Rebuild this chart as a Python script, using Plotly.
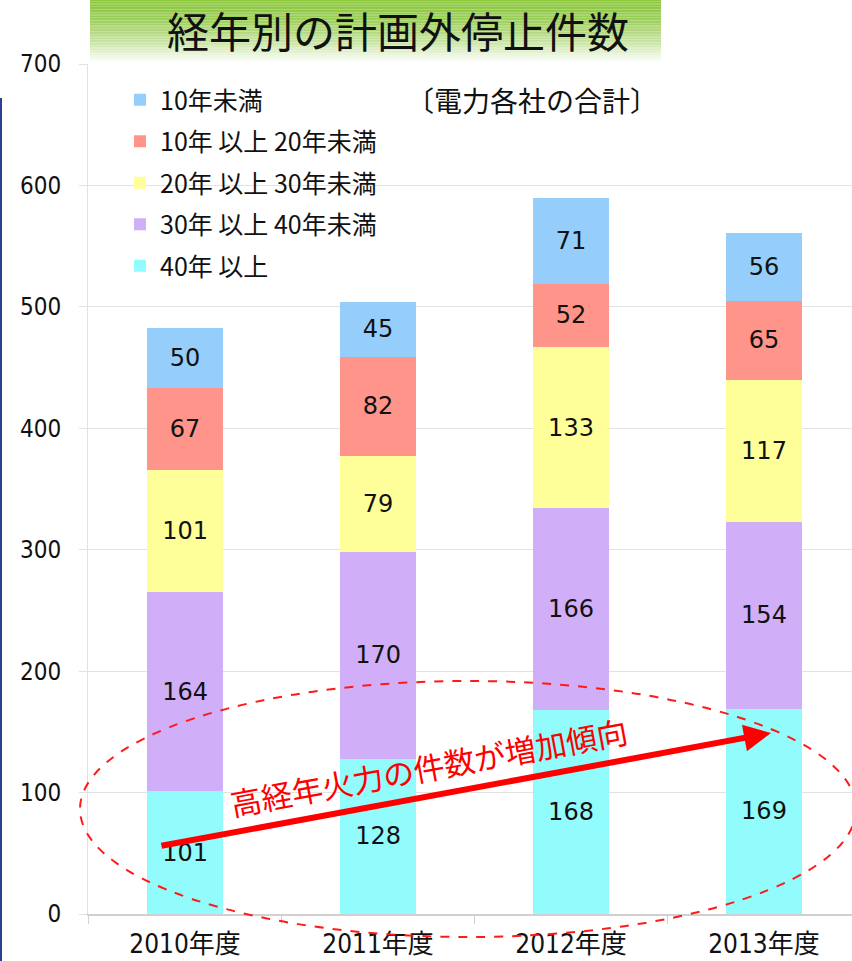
import plotly.graph_objects as go

categories = ["2010年度", "2011年度", "2012年度", "2013年度"]
series_names = ["40年以上", "30年以上40年未満", "20年以上30年未満", "10年以上20年未満", "10年未満"]
v_40plus = [101, 128, 168, 169]
v_30_40 = [164, 170, 166, 154]
v_20_30 = [101, 79, 133, 117]
v_10_20 = [67, 82, 52, 65]
v_under10 = [50, 45, 71, 56]
y_ticks = [0, 100, 200, 300, 400, 500, 600, 700]

values = [v_40plus, v_30_40, v_20_30, v_10_20, v_under10]
colors = ["#92FCFC", "#D0AEF8", "#FFFF99", "#FF948A", "#95CEFA"]

W, H = 852, 961
L, R, T, B = 88, 0, 64, 47
PW = W - L - R
PH = H - T - B

def px(x):
    return (x - L) / PW

def py(y):
    return (H - B - y) / PH

FONT = "Liberation Sans Narrow, DejaVu Sans Condensed, Noto Sans CJK JP, sans-serif"
NUMFONT = "DejaVu Sans, sans-serif"
CJK = "Noto Sans CJK JP, sans-serif"

fig = go.Figure()
n_series = len(series_names)
for i, (name, vals, col) in enumerate(zip(series_names, values, colors)):
    fig.add_trace(go.Bar(
        x=categories, y=vals, name=name.replace("以上", " 以上 ").replace("  ", " ").strip(),
        marker=dict(color=col, line=dict(width=0)),
        text=[str(v) for v in vals], textposition="inside",
        insidetextanchor="middle",
        textfont=dict(size=24, color="#111111", family=NUMFONT),
        width=0.39, legendgroup=f"g{i}", legendrank=n_series - i,
        hoverinfo="skip",
    ))

shapes = []
# green gradient title box
n = 40
top, bot = 0, 63
for k in range(n):
    y0 = top + (bot - top) * k / n
    y1 = top + (bot - top) * (k + 1) / n
    t = k / (n - 1)
    f = t ** 1.6
    r = int(141 + (255 - 141) * f)
    g = int(200 + (255 - 200) * f)
    b = int(63 + (255 - 63) * f)
    shapes.append(dict(type="rect", xref="paper", yref="paper",
                       x0=px(90), x1=px(661), y0=py(y1), y1=py(y0),
                       fillcolor=f"rgb({r},{g},{b})", line=dict(width=0), layer="above"))
# left blue edge line
shapes.append(dict(type="line", xref="paper", yref="paper",
                   x0=px(1), x1=px(1), y0=py(98), y1=py(961),
                   line=dict(color="#2D3F8F", width=2)))
# dashed ellipse
shapes.append(dict(type="circle", xref="paper", yref="paper",
                   x0=px(80), x1=px(856), y0=py(937), y1=py(681),
                   line=dict(color="#FF1A1A", width=2, dash="dash"), layer="above"))

annotations = [
    dict(text="経年別の計画外停止件数", xref="paper", yref="paper",
         x=px(398), y=py(30), xanchor="center", yanchor="middle", showarrow=False,
         font=dict(size=42, color="#111111", family=CJK)),
    dict(text="〔電力各社の合計〕", xref="paper", yref="paper",
         x=px(532), y=py(100), xanchor="center", yanchor="middle", showarrow=False,
         font=dict(size=28, color="#111111", family=CJK)),
    dict(text="", xref="paper", yref="paper",
         x=px(771), y=py(733), ax=160 - 771, ay=846 - 733,
         showarrow=True, arrowhead=2, arrowsize=0.9, arrowwidth=6,
         arrowcolor="#FF0000"),
    dict(text="高経年火力の件数が増加傾向", xref="paper", yref="paper",
         x=px(428), y=py(766), xanchor="center", yanchor="middle",
         showarrow=False, textangle=-10.5,
         font=dict(size=31, color="#FF0000", family=CJK)),
]

fig.update_layout(
    width=W, height=H,
    margin=dict(l=L, r=R, t=T, b=B, autoexpand=False),
    paper_bgcolor="white", plot_bgcolor="white",
    barmode="stack",
    showlegend=True,
    hovermode=False,
    legend=dict(x=px(120), y=py(77), xanchor="left", yanchor="top",
                traceorder="grouped", tracegroupgap=6,
                font=dict(size=25, color="#111111", family=CJK),
                bgcolor="rgba(0,0,0,0)", itemwidth=30),
    xaxis=dict(type="category", range=[-0.503, 3.456], automargin=False,
               showgrid=False, showline=True, linecolor="#D0D0D0", linewidth=2,
               ticks="outside", ticklen=8, tickcolor="#D0D0D0", tickson="boundaries",
               ticklabelstandoff=6,
               tickfont=dict(size=26, color="#111111", family=FONT)),
    yaxis=dict(range=[0, 700], tickvals=y_ticks, showgrid=True, automargin=False,
               gridcolor="#E2E2E2", gridwidth=1, zeroline=False,
               showline=True, linecolor="#E2E2E2", linewidth=1,
               ticks="outside", ticklen=8, tickcolor="#E2E2E2",
               ticklabelstandoff=13,
               tickfont=dict(size=24, color="#111111", family=FONT)),
    shapes=shapes,
    annotations=annotations,
)

fig.write_html("out.html", config={"displayModeBar": False, "staticPlot": True},
               post_script="document.body.style.margin='0';document.body.style.overflow='hidden';")
